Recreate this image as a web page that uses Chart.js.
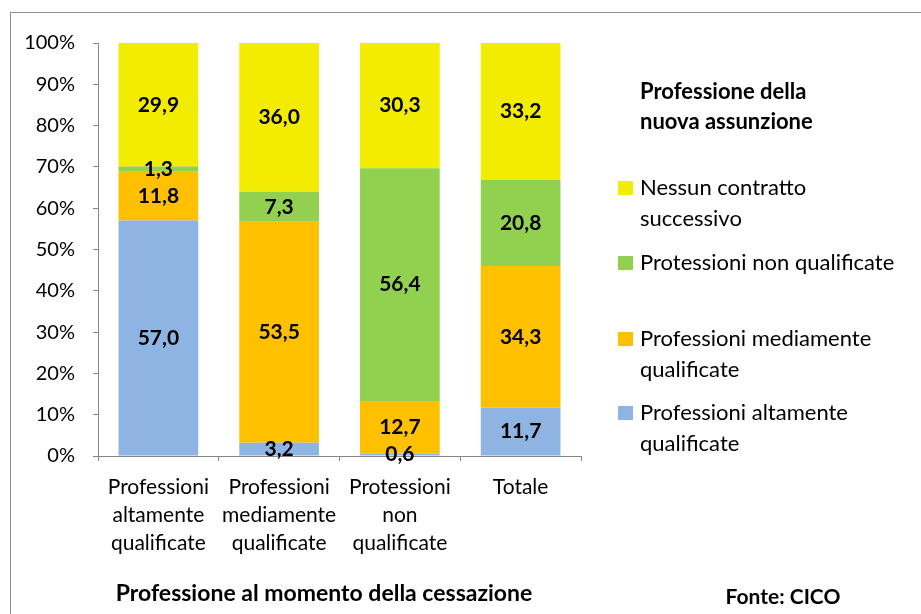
<!DOCTYPE html>
<html>
<head>
<meta charset="utf-8">
<script src="https://cdn.jsdelivr.net/npm/chart.js@4.4.1/dist/chart.umd.min.js"></script>
<style>
  html, body { margin: 0; padding: 0; background: #fff; }
  #wrap { width: 921px; height: 614px; position: relative; }
</style>
</head>
<body>
<div id="wrap"><canvas id="cessChart" width="921" height="614"></canvas></div>
<script>
// categorie (professione al momento della cessazione)
const categories = [
  ['Professioni', 'altamente', 'qualificate'],
  ['Professioni', 'mediamente', 'qualificate'],
  ['Protessioni', 'non', 'qualificate'],
  'Totale'
];

// serie (professione della nuova assunzione), valori in %
const altamente = [57.0, 3.2, 0.6, 11.7];
const mediamente = [11.8, 53.5, 12.7, 34.3];
const nonQualificate = [1.3, 7.3, 56.4, 20.8];
const nessunContratto = [29.9, 36.0, 30.3, 33.2];

const seriesNames = [
  'Professioni altamente\nqualificate',
  'Professioni mediamente\nqualificate',
  'Protessioni non qualificate',
  'Nessun contratto\nsuccessivo'
];
const seriesColors = ['#8DB4E2', '#FFC000', '#92D050', '#F2EC00'];

const yTicks = [0, 10, 20, 30, 40, 50, 60, 70, 80, 90, 100];

const legendTitle = ['Professione della', 'nuova assunzione'];
const axisTitle = 'Professione al momento della cessazione';
const sourceNote = 'Fonte: CICO';

const fmt = v => v.toFixed(1).replace('.', ',');

// etichette dei valori al centro di ogni segmento
const valueLabels = {
  id: 'valueLabels',
  afterDatasetsDraw(chart) {
    const ctx = chart.ctx;
    ctx.save();
    ctx.font = 'bold 21px Lato';
    ctx.fillStyle = '#000';
    ctx.textAlign = 'center';
    ctx.textBaseline = 'middle';
    chart.data.datasets.forEach((ds, i) => {
      chart.getDatasetMeta(i).data.forEach((bar, j) => {
        ctx.fillText(fmt(ds.data[j]), bar.x, (bar.y + bar.base) / 2);
      });
    });
    ctx.restore();
  }
};

// legenda laterale, titolo asse, fonte e cornice
const sideLegend = {
  id: 'sideLegend',
  afterDraw(chart) {
    const ctx = chart.ctx;
    ctx.save();
    ctx.fillStyle = '#000';
    ctx.textBaseline = 'middle';
    ctx.font = 'bold 22px Lato';
    ctx.fillText(legendTitle[0], 640, 92);
    ctx.fillText(legendTitle[1], 640, 122);

    const rows = [188, 263, 339, 413];
    const order = [3, 2, 1, 0];
    ctx.font = '22px Lato';
    order.forEach((di, i) => {
      const ds = chart.data.datasets[di];
      ctx.fillStyle = ds.backgroundColor;
      ctx.fillRect(618, rows[i] - 7, 15, 14);
      ctx.fillStyle = '#000';
      ds.label.split('\n').forEach((line, j) => ctx.fillText(line, 640, rows[i] + j * 31));
    });

    ctx.font = 'bold 23px Lato';
    ctx.textAlign = 'center';
    ctx.fillText(axisTitle, 324, 594);
    ctx.font = 'bold 21px Lato';
    ctx.fillText(sourceNote, 783, 597);

    ctx.strokeStyle = '#8c8c8c';
    ctx.lineWidth = 1;
    ctx.strokeRect(10.5, 12.5, 1200, 1200);
    ctx.restore();
  }
};

const seriesData = [altamente, mediamente, nonQualificate, nessunContratto];

function draw() {
  Chart.defaults.font.family = 'Lato';
  Chart.defaults.color = '#000';
  const ctx = document.getElementById('cessChart').getContext('2d');
  new Chart(ctx, {
    type: 'bar',
    data: {
      labels: categories,
      datasets: seriesData.map((d, i) => ({
        label: seriesNames[i],
        data: d,
        backgroundColor: seriesColors[i],
        borderWidth: 0,
        categoryPercentage: 1,
        barPercentage: 0.66
      }))
    },
    options: {
      responsive: false,
      animation: false,
      layout: { padding: { left: 20, top: 43, right: 340, bottom: 0 } },
      plugins: { legend: { display: false }, tooltip: { enabled: false } },
      scales: {
        x: {
          stacked: true,
          afterFit(scale) { scale.height = 158; },
          grid: { drawOnChartArea: false, tickLength: 5, color: '#868686' },
          border: { color: '#868686' },
          ticks: { font: { size: 21, lineHeight: 1.333 }, padding: 12, maxRotation: 0, autoSkip: false }
        },
        y: {
          stacked: true,
          min: 0,
          max: 100,
          afterFit(scale) { scale.width = 78; },
          afterBuildTicks(scale) { scale.ticks = yTicks.map(v => ({ value: v })); },
          grid: { drawOnChartArea: false, tickLength: 5, color: '#868686' },
          border: { color: '#868686' },
          ticks: { font: { size: 20 }, padding: 18, callback: v => v + '%' }
        }
      }
    },
    plugins: [valueLabels, sideLegend]
  });
}

Promise.all([
  document.fonts.load('20px Lato'),
  document.fonts.load('bold 20px Lato')
]).then(draw, draw);
</script>
</body>
</html>
